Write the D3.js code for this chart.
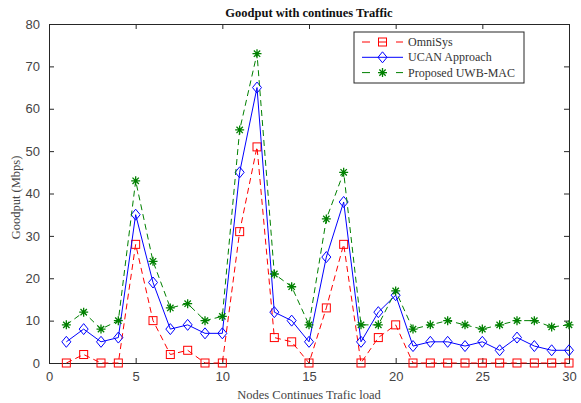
<!DOCTYPE html>
<html>
<head>
<meta charset="utf-8">
<script src="https://cdn.jsdelivr.net/npm/d3@7"></script>
<style>
body { margin: 0; background: #fff; }
</style>
</head>
<body>
<div id="chart-area"></div>
<script>
// Data
var nodes = d3.range(1, 31)
var omniSys = [0, 2, 0, 0, 28, 10, 2, 3, 0, 0, 31, 51, 6, 5, 0, 13, 28, 0, 6, 9, 0, 0, 0, 0, 0, 0, 0, 0, 0, 0]
var ucan = [5, 8, 5, 6, 35, 19, 8, 9, 7, 7, 45, 65, 12, 10, 5, 25, 38, 5, 12, 16, 4, 5, 5, 4, 5, 3, 6, 4, 3, 3]
var uwbMac = [9, 12, 8, 10, 43, 24, 13, 14, 10, 11, 55, 73, 21, 18, 9, 34, 45, 9, 9, 17, 8, 9, 10, 9, 8, 9, 10, 10, 8.5, 9]
var xTicks = [0, 5, 10, 15, 20, 25, 30]
var yTicks = [0, 10, 20, 30, 40, 50, 60, 70, 80]

var series = [
    {name: "OmniSys", values: omniSys, color: "#ff0000", dash: "6,4", marker: "square"},
    {name: "UCAN Approach", values: ucan, color: "#0000ff", dash: null, marker: "diamond"},
    {name: "Proposed UWB-MAC", values: uwbMac, color: "#008000", dash: "6,4", marker: "star"}
]

var W = 581, H = 403
var margin = {top: 24, right: 12, bottom: 40, left: 49},
    width = W - margin.left - margin.right,
    height = H - margin.top - margin.bottom

var svg = d3.select("#chart-area")
    .append("svg")
        .attr("width", W)
        .attr("height", H)

var g = svg.append("g")
    .attr("transform", "translate(" + margin.left + ", " + margin.top + ")")

var x = d3.scaleLinear().domain([0, 30]).range([0, width])
var y = d3.scaleLinear().domain([0, 80]).range([height, 0])

// Axes (ticks pointing inward, box on all sides)
var tickFont = "'Liberation Sans', Arial, sans-serif"
g.append("g")
    .attr("transform", "translate(0, " + height + ")")
    .call(d3.axisBottom(x).tickValues(xTicks).tickSize(-5).tickPadding(9))
g.append("g")
    .call(d3.axisTop(x).tickValues(xTicks).tickSize(-5).tickFormat(""))
g.append("g")
    .call(d3.axisLeft(y).tickValues(yTicks).tickSize(-5).tickPadding(9))
g.append("g")
    .attr("transform", "translate(" + width + ", 0)")
    .call(d3.axisRight(y).tickValues(yTicks).tickSize(-5).tickFormat(""))

g.selectAll(".domain").attr("stroke", "#262626")
g.selectAll(".tick line").attr("stroke", "#262626")
g.selectAll(".tick text")
    .attr("font-family", tickFont)
    .attr("font-size", 13)
    .attr("fill", "#444")

// Title and labels
var serif = "'Liberation Serif', 'Times New Roman', serif"
svg.append("text")
    .attr("x", margin.left + width / 2)
    .attr("y", 17)
    .attr("text-anchor", "middle")
    .attr("font-family", serif)
    .attr("font-weight", "bold")
    .attr("font-size", 12.5)
    .attr("fill", "#111")
    .text("Goodput with continues Traffic")

svg.append("text")
    .attr("x", margin.left + width / 2)
    .attr("y", 399)
    .attr("text-anchor", "middle")
    .attr("font-family", serif)
    .attr("font-size", 12.5)
    .attr("fill", "#444")
    .text("Nodes Continues Trafic load")

svg.append("text")
    .attr("transform", "translate(20, " + (margin.top + height / 2 + 4) + ") rotate(-90)")
    .attr("text-anchor", "middle")
    .attr("font-family", serif)
    .attr("font-size", 12.5)
    .attr("fill", "#444")
    .text("Goodput (Mbps)")

// Marker drawing
function drawMarker(sel, type, color) {
    if (type === "square") {
        sel.append("rect")
            .attr("x", -4).attr("y", -4).attr("width", 8).attr("height", 8)
            .attr("fill", "none").attr("stroke", color).attr("stroke-width", 1)
    } else if (type === "diamond") {
        sel.append("path")
            .attr("d", "M0,-5.5L4.5,0L0,5.5L-4.5,0Z")
            .attr("fill", "none").attr("stroke", color).attr("stroke-width", 1)
    } else {
        var r = 4.5, p = ""
        for (var k = 0; k < 4; k++) {
            var a = k * Math.PI / 4
            p += "M" + (-r * Math.cos(a)) + "," + (-r * Math.sin(a)) + "L" + (r * Math.cos(a)) + "," + (r * Math.sin(a))
        }
        sel.append("path")
            .attr("d", p)
            .attr("stroke", color).attr("stroke-width", 1.3)
    }
}

var line = d3.line()
    .x((d, i) => x(nodes[i]))
    .y(d => y(d))

series.forEach(function(s) {
    g.append("path")
        .datum(s.values)
        .attr("fill", "none")
        .attr("stroke", s.color)
        .attr("stroke-width", 1)
        .attr("stroke-dasharray", s.dash)
        .attr("d", line)

    g.selectAll(".m-" + s.marker)
        .data(s.values)
        .enter()
        .append("g")
        .attr("class", "m-" + s.marker)
        .attr("transform", (d, i) => "translate(" + x(nodes[i]) + "," + y(d) + ")")
        .each(function() { drawMarker(d3.select(this), s.marker, s.color) })
})

// Legend
var legend = svg.append("g").attr("transform", "translate(354, 32)")
legend.append("rect")
    .attr("width", 170).attr("height", 51)
    .attr("fill", "#fff").attr("stroke", "#262626").attr("stroke-width", 1)

series.forEach(function(s, i) {
    var ly = 10 + i * 15.3
    legend.append("line")
        .attr("x1", 8).attr("x2", 49)
        .attr("y1", ly).attr("y2", ly)
        .attr("stroke", s.color)
        .attr("stroke-dasharray", s.dash ? "8,9" : null)
    var m = legend.append("g").attr("transform", "translate(28.5," + ly + ")")
    drawMarker(m, s.marker, s.color)
    legend.append("text")
        .attr("x", 54).attr("y", ly + 4)
        .attr("font-family", serif)
        .attr("font-size", 12)
        .attr("fill", "#333")
        .text(s.name)
})
</script>
</body>
</html>
